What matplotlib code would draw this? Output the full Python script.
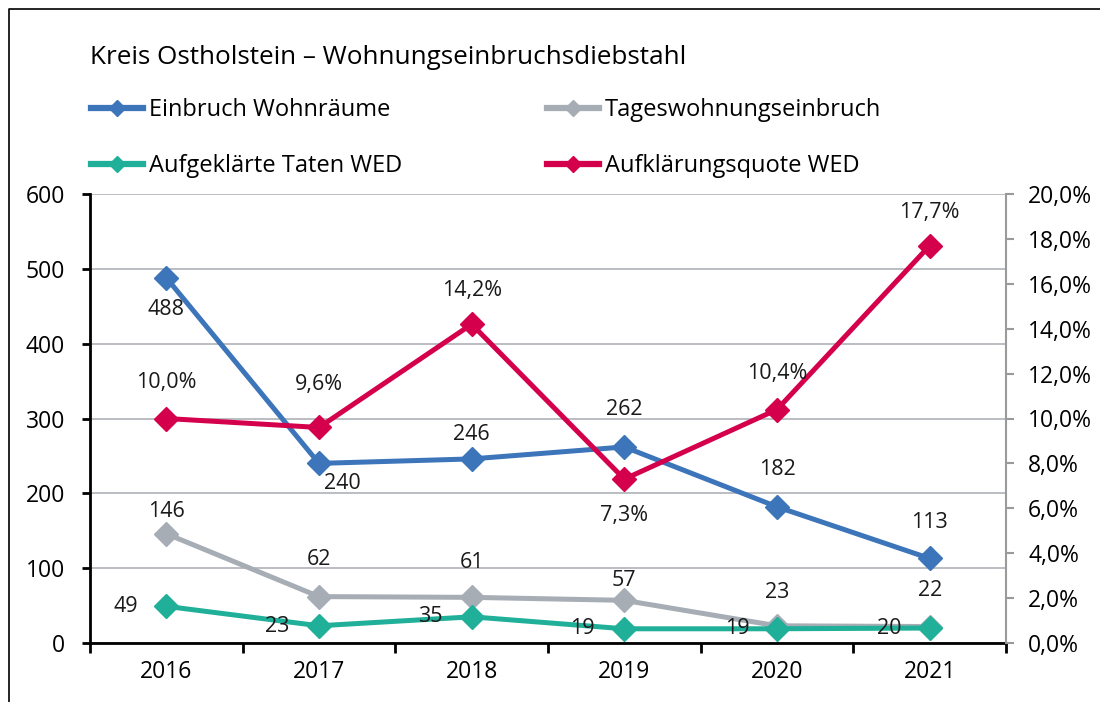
import matplotlib
matplotlib.use("Agg")
import matplotlib.pyplot as plt
from matplotlib.lines import Line2D

plt.rcParams['font.family'] = ['Open Sans', 'DejaVu Sans']

years = ["2016", "2017", "2018", "2019", "2020", "2021"]
einbruch = [488, 240, 246, 262, 182, 113]
tages = [146, 62, 61, 57, 23, 22]
aufgeklaert = [49, 23, 35, 19, 19, 20]
quote = [10.0, 9.6, 14.2, 7.3, 10.4, 17.7]

# label offsets in pixels (dx, dy)
off_einbruch = [(0, -32), (23, -20), (0, 24), (0, 37), (0, 37), (0, 36)]
off_tages = [(0, 22), (0, 37), (0, 35), (0, 20), (0, 33), (0, 36)]
off_aufgeklaert = [(-41, 0), (-42, -1), (-41, 0), (-42, 0), (-40, 0), (-40, 0)]
off_quote = [(0, 36), (0, 43), (0, 34), (0, -36), (0, 36), (0, 33)]

c_blue = "#3c75b9"
c_gray = "#a7adb5"
c_teal = "#20af98"
c_red = "#d5004b"

fig = plt.figure(figsize=(11, 7.02), dpi=100)
ax = fig.add_axes([90 / 1100, 1 - 643 / 702, 916 / 1100, 449 / 702])
ax2 = ax.twinx()

x = [i + 0.5 for i in range(len(years))]
lw = 3.6
ms = 12

l1, = ax.plot(x, einbruch, color=c_blue, lw=lw, marker="D", ms=ms, zorder=3)
l2, = ax.plot(x, tages, color=c_gray, lw=lw, marker="D", ms=ms, zorder=3)
l3, = ax.plot(x, aufgeklaert, color=c_teal, lw=lw, marker="D", ms=ms, zorder=4)
l4, = ax2.plot(x, quote, color=c_red, lw=lw, marker="D", ms=ms, zorder=3)

fs = 15.5
for xs, vals, offs in [(x, einbruch, off_einbruch), (x, tages, off_tages),
                       (x, aufgeklaert, off_aufgeklaert)]:
    for xi, v, o in zip(xs, vals, offs):
        ax.annotate(str(v), (xi, v), xytext=o, textcoords="offset pixels",
                    ha="center", va="center", fontsize=fs, color="#1a1a1a", zorder=5)
for xi, v, o in zip(x, quote, off_quote):
    ax2.annotate(f"{v:.1f}%".replace(".", ","), (xi, v), xytext=o,
                 textcoords="offset pixels", ha="center", va="center",
                 fontsize=fs, color="#1a1a1a", zorder=5)

ax.set_xlim(0, 6)
ax.set_ylim(0, 600)
ax2.set_ylim(0, 20)
ax.set_yticks(range(0, 601, 100))
ax2.set_yticks(range(0, 21, 2))
ax2.set_yticklabels([f"{v:.1f}%".replace(".", ",") for v in range(0, 21, 2)])
ax.set_xticks(range(0, 7))
ax.set_xticklabels([])
ax.set_xticks(x, minor=True)
ax.set_xticklabels(years, minor=True)

ax.yaxis.grid(True, color="#b4b8bd", lw=1.3)
ax.set_axisbelow(True)

for a in (ax, ax2):
    a.spines["top"].set_visible(False)
ax.spines["left"].set_color("black")
ax.spines["left"].set_linewidth(2)
ax.spines["bottom"].set_linewidth(2)
ax.spines["bottom"].set_zorder(6)
ax2.spines["left"].set_visible(False)
ax2.spines["bottom"].set_visible(False)
ax2.spines["right"].set_color("#9a9a9a")
ax2.spines["right"].set_linewidth(1.5)
ax.spines["right"].set_visible(False)

tfs = 16.5
ax.tick_params(axis="y", direction="out", length=6, width=2, labelsize=tfs,
               pad=12, colors="black")
ax.tick_params(axis="x", which="major", direction="out", length=7, width=2)
ax.tick_params(axis="x", which="minor", length=0, labelsize=tfs, pad=12)
ax2.tick_params(axis="y", direction="out", length=6, width=1.5, color="#9a9a9a",
                labelcolor="black", labelsize=tfs, pad=10)

fig.text(90 / 1100, 1 - 57 / 702, "Kreis Ostholstein – Wohnungseinbruchsdiebstahl",
         fontsize=18.8, ha="left", va="center", color="black")


def handle(c):
    return Line2D([], [], color=c, lw=4.5, marker="D", ms=8)


leg_kw = dict(frameon=False, fontsize=17, handlelength=2.2, handletextpad=0.25,
              labelspacing=1.35, borderaxespad=0, borderpad=0, loc="upper left")
leg1 = fig.legend([handle(c_blue), handle(c_teal)],
                  ["Einbruch Wohnräume", "Aufgeklärte Taten WED"],
                  bbox_to_anchor=(91 / 1100, 1 - 98 / 702), **leg_kw)
leg2 = fig.legend([handle(c_gray), handle(c_red)],
                  ["Tageswohnungseinbruch", "Aufklärungsquote WED"],
                  bbox_to_anchor=(547 / 1100, 1 - 98 / 702), **leg_kw)

# outer frame (cut off at right and bottom)
fx = 9 / 1100
fy = 1 - 9 / 702
fig.add_artist(Line2D([fx, fx, 1], [0, fy, fy], color="black", lw=1.2,
                      transform=fig.transFigure))

fig.savefig("out.png", dpi=100)
